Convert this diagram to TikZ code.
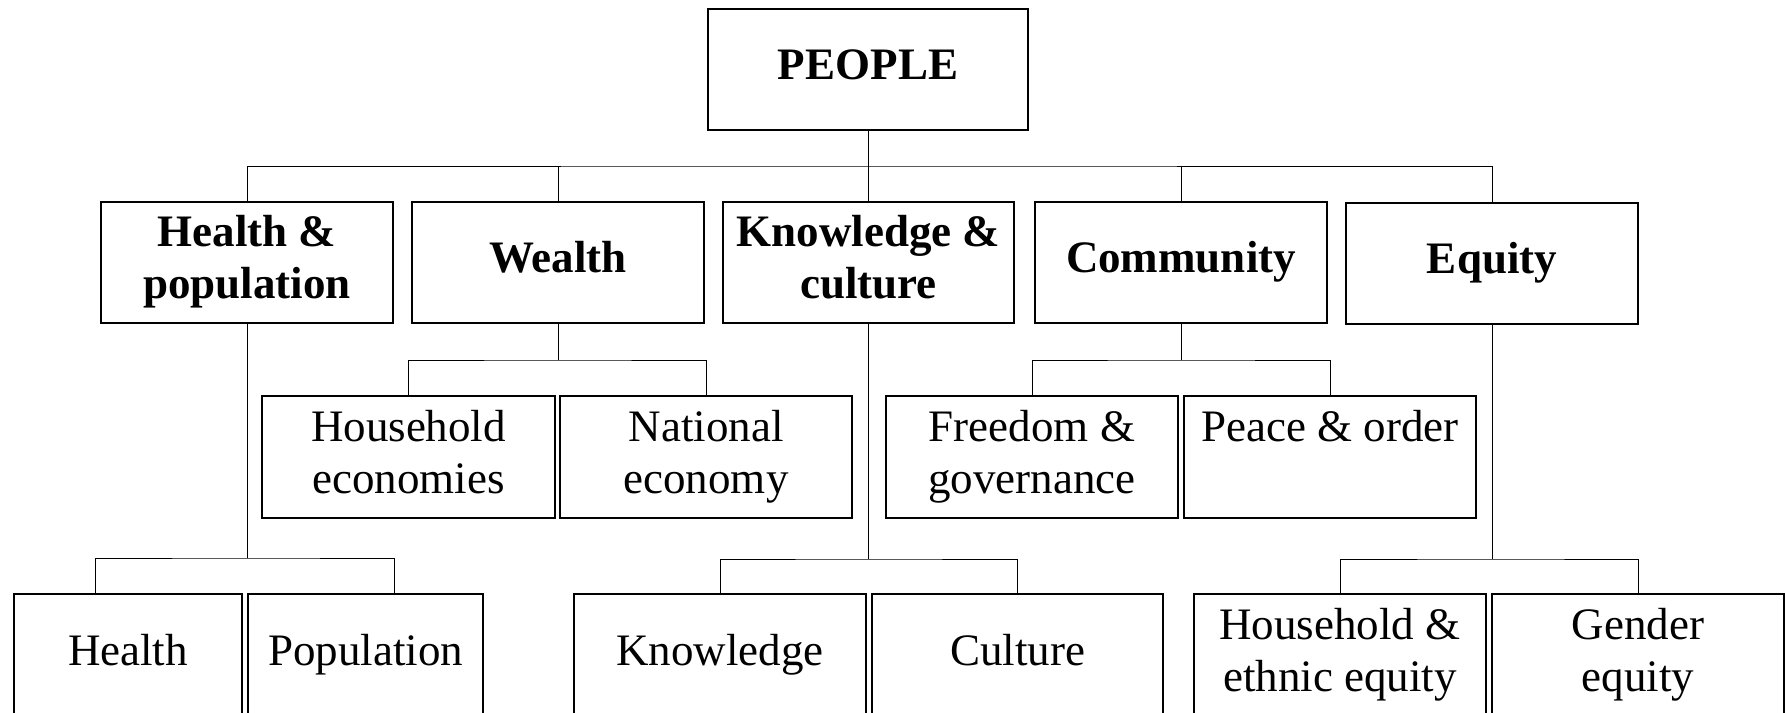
\documentclass[tikz,border=0pt]{standalone}
\usepackage{fontspec}
\setmainfont{Liberation Serif}
\usetikzlibrary{calc}
\begin{document}
\begin{tikzpicture}[x=1pt,y=-1pt,
  box/.style={draw, line width=1.5pt, minimum height=121pt, minimum width=292pt, align=center, inner sep=0pt, font=\fontsize{45}{52}\selectfont},
  bbox/.style={box, font=\fontsize{45}{52}\selectfont\bfseries},
  link/.style={line width=1pt}]
\useasboundingbox (0,0) rectangle (1785,712);
\clip (0,0) rectangle (1785,712);
% top
\node[bbox, minimum width=320pt] (people) at (868,69.5) {\strut PEOPLE};
% level 1
\node[bbox] (hp) at (247,262.5) {\strut Health \&\\\strut population};
\node[bbox] (wl) at (558,262.5) {\strut Wealth};
\node[bbox, minimum width=291pt] (kc) at (868.5,262.5) {\strut Knowledge \&\\\strut culture};
\node[bbox] (cm) at (1181,262.5) {\strut Community};
\node[bbox] (eq) at (1492,263.5) {\strut Equity};
% level 2
\node[box, minimum width=293pt, minimum height=122pt] (he) at (408.5,457) {\strut Household\\\strut economies};
\node[box, minimum height=122pt] (ne) at (706,457) {\strut National\\\strut economy};
\node[box, minimum height=122pt] (fg) at (1032,457) {\strut Freedom \&\\\strut governance};
\node[box, minimum height=122pt] (po) at (1330,457) {\strut Peace \& order\\\strut};
% level 3
\node[box, minimum width=228pt, minimum height=122pt] (health) at (128,655) {\strut Health};
\node[box, minimum width=235pt, minimum height=122pt] (pop) at (365.5,655) {\strut Population};
\node[box, minimum height=122pt] (know) at (720,655) {\strut Knowledge};
\node[box, minimum width=291pt, minimum height=122pt] (cult) at (1017.5,655) {\strut Culture};
\node[box, minimum height=122pt] (hee) at (1340,655) {\strut Household \&\\\strut ethnic equity};
\node[box, minimum height=122pt] (ge) at (1638,655) {\strut Gender\\\strut equity};
% connectors
\coordinate (b0) at (868,166);
\draw[link] (people.south) -- (b0);
\draw[link] (hp.north) |- (b0) -| (eq.north);
\foreach \n in {wl,kc,cm} \draw[link] (\n.north) -- (\n.north |- b0);
\coordinate (b1) at (558,360);
\draw[link] (wl.south) -- (b1);
\draw[link] (he.north) |- (b1) -| (ne.north);
\coordinate (b2) at (1181,360);
\draw[link] (cm.south) -- (b2);
\draw[link] (fg.north) |- (b2) -| (po.north);
\coordinate (b3) at (247,558);
\coordinate (h1) at ($(health.north)+(-33,0)$);
\coordinate (h2) at ($(pop.north)+(28.5,0)$);
\draw[link] (hp.south) -- (b3);
\draw[link] (h1) |- (b3) -| (h2);
\coordinate (b4) at (868.5,559);
\draw[link] (kc.south) -- (b4);
\draw[link] (know.north) |- (b4) -| (cult.north);
\coordinate (b5) at (1492,559);
\draw[link] (eq.south) -- (b5);
\draw[link] (hee.north) |- (b5) -| (ge.north);
\end{tikzpicture}
\end{document}
